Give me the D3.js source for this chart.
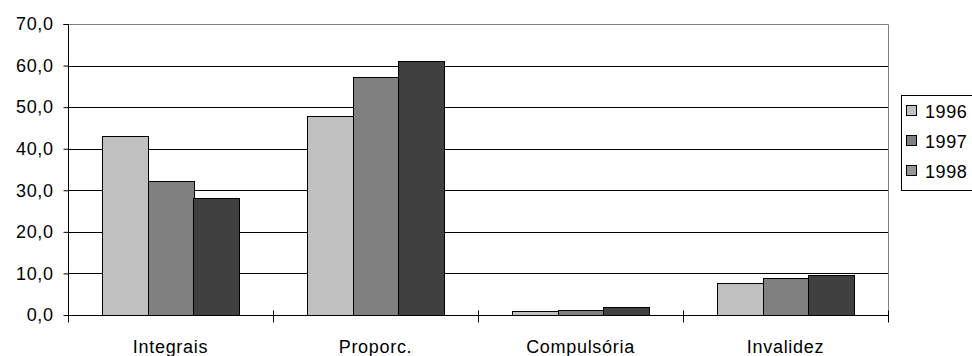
<!DOCTYPE html>
<html><head><meta charset="utf-8">
<script src="https://cdn.jsdelivr.net/npm/d3@7"></script>
<style>body{margin:0;background:#fff}svg{display:block}</style>
</head><body>
<svg id="c" width="972" height="356"></svg>
<script>
const categories = ["Integrais", "Proporc.", "Compulsória", "Invalidez"];
const years = ["1996", "1997", "1998"];
const v1996 = [43.1, 47.9, 1.0, 7.7];
const v1997 = [32.3, 57.3, 1.3, 9.0];
const v1998 = [28.1, 61.1, 2.0, 9.7];
const yTicks = [0, 10, 20, 30, 40, 50, 60, 70];
const barColors = ["#c0c0c0", "#808080", "#404040"];
const legendColors = ["#c0c0c0", "#808080", "#969696"];

const series = [v1996, v1997, v1998];
const svg = d3.select("#c");
const font = "Liberation Sans, Arial, sans-serif";
const L = 68, R = 888, T = 24, B = 315;

const x0 = d3.scaleBand().domain(categories).range([L, R]).paddingInner(0).paddingOuter(0);
const x1 = d3.scaleBand().domain(years).range([0, x0.bandwidth()]).paddingInner(0).paddingOuter(0.75);
const y = d3.scaleLinear().domain([0, 70]).range([B, T]);

// gridlines
svg.append("g").selectAll("line").data(yTicks.filter(t => t > 0 && t < 70)).join("line")
  .attr("x1", L).attr("x2", R).attr("y1", d => Math.round(y(d)) + 0.5).attr("y2", d => Math.round(y(d)) + 0.5)
  .attr("stroke", "#000").attr("stroke-width", 1);
// plot border (top/right)
svg.append("path").attr("d", `M${L},${T + 0.5}H${R + 0.5}V${B}`)
  .attr("fill", "none").attr("stroke", "#808080").attr("stroke-width", 1);

// bars
const g = svg.append("g");
categories.forEach((c, i) => {
  years.forEach((yr, j) => {
    const v = series[j][i];
    g.append("rect")
      .attr("x", Math.round(x0(c) + x1(yr)) + 0.5)
      .attr("y", Math.round(y(v)) + 0.5)
      .attr("width", Math.round(x1.bandwidth()))
      .attr("height", Math.round(B - y(v)))
      .attr("fill", barColors[j]).attr("stroke", "#000").attr("stroke-width", 1);
  });
});

// y axis
const yAxis = d3.axisLeft(y).tickValues(yTicks).tickSize(5).tickPadding(10)
  .tickFormat(d => d3.format(".1f")(d).replace(".", ","));
const ya = svg.append("g").attr("transform", `translate(${L + 0.5},0)`).call(yAxis);
ya.select(".domain").attr("d", `M-5,${T + 0.5}H0V${B + 7}`).attr("stroke", "#000");
ya.selectAll(".tick line").attr("stroke", "#000");
ya.selectAll("text").attr("font-family", font).attr("font-size", 18).attr("fill", "#000")
  .attr("letter-spacing", "0.6px");

// x axis
const xa = svg.append("g").attr("transform", `translate(0,${B + 0.5})`);
xa.append("line").attr("x1", L).attr("x2", R + 1).attr("y1", 0).attr("y2", 0).attr("stroke", "#000");
const bounds = [L, ...categories.map(c => x0(c) + x0.bandwidth())];
xa.selectAll(".tk").data(bounds).join("line").attr("class", "tk")
  .attr("x1", d => Math.round(d) + 0.5).attr("x2", d => Math.round(d) + 0.5)
  .attr("y1", -5).attr("y2", 7).attr("stroke", "#000");
xa.selectAll("text").data(categories).join("text")
  .attr("x", d => x0(d) + x0.bandwidth() / 2).attr("y", 37)
  .attr("text-anchor", "middle").attr("font-family", font).attr("font-size", 18).attr("fill", "#000")
  .attr("letter-spacing", "0.7px")
  .text(d => d);

// legend
const lg = svg.append("g");
lg.append("rect").attr("x", 901.5).attr("y", 95.5).attr("width", 80).attr("height", 95)
  .attr("fill", "#fff").attr("stroke", "#000");
years.forEach((yr, j) => {
  const cy = 111 + j * 30;
  lg.append("rect").attr("x", 906.5).attr("y", cy - 5.5).attr("width", 10).attr("height", 10)
    .attr("fill", legendColors[j]).attr("stroke", "#000");
  lg.append("text").attr("x", 925).attr("y", cy + 6.5).attr("font-family", font).attr("font-size", 18)
    .attr("fill", "#000").attr("letter-spacing", "0.6px").text(yr);
});
</script>
</body></html>
